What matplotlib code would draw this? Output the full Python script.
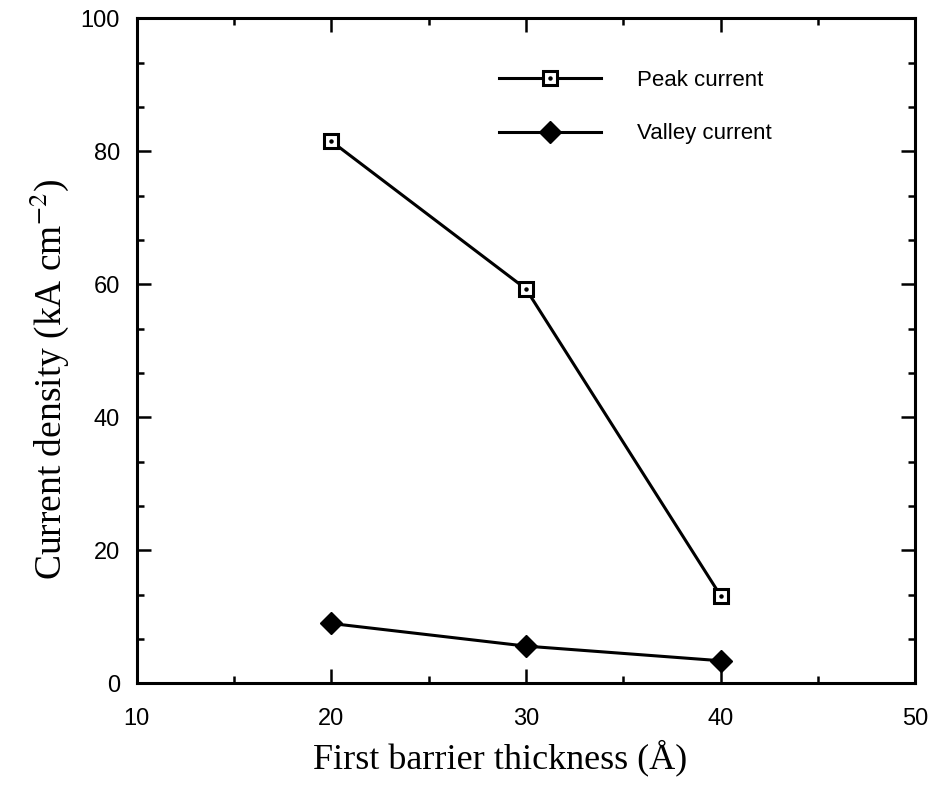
import matplotlib
matplotlib.use("Agg")
import matplotlib.pyplot as plt
from matplotlib.ticker import AutoMinorLocator
from matplotlib.legend_handler import HandlerTuple

# first barrier thickness (angstrom) and current densities (kA cm^-2)
thickness = [20, 30, 40]
peak_current = [81.5, 59.3, 13.2]
valley_current = [9.0, 5.6, 3.4]

xticks = [10, 20, 30, 40, 50]
yticks = [0, 20, 40, 60, 80, 100]

plt.rcParams["mathtext.fontset"] = "stix"

fig = plt.figure(figsize=(9.3, 7.9), dpi=100)
ax = fig.add_axes([0.147, 0.135, 0.837, 0.842])

sans = "Liberation Sans"
serif = "Liberation Serif"

pk, = ax.plot(thickness, peak_current, color="black", lw=2.2, marker="s",
              ms=10, mfc="white", mec="black", mew=2.2, zorder=3)
pk_dot, = ax.plot(thickness, peak_current, ls="none", marker="o", ms=2.2,
                  color="black", zorder=4)
vl, = ax.plot(thickness, valley_current, color="black", lw=2.2, marker="D",
              ms=11, mfc="black", mec="black", zorder=3)

ax.set_xlim(10, 50)
ax.set_ylim(0, 100)
ax.xaxis.set_minor_locator(AutoMinorLocator(2))
ax.yaxis.set_minor_locator(AutoMinorLocator(3))
ax.set_xticks(xticks)
ax.set_yticks(yticks)

for sp in ax.spines.values():
    sp.set_linewidth(2.2)

ax.tick_params(which="both", direction="in", top=True, right=True,
               width=1.8, color="black")
ax.tick_params(which="major", length=10)
ax.tick_params(which="minor", length=5)
ax.tick_params(axis="x", which="major", pad=18, labelsize=17)
ax.tick_params(axis="y", which="major", pad=12, labelsize=17)
for lab in ax.get_xticklabels() + ax.get_yticklabels():
    lab.set_fontfamily(sans)

ax.set_xlabel("First barrier thickness (Å)", fontsize=26, family=serif)
ax.xaxis.set_label_coords(0.467, -0.085)
ax.set_ylabel("Current density (kA cm$^{-2}$)", fontsize=27, family=serif)
ax.yaxis.set_label_coords(-0.084, 0.457)

leg = ax.legend([(pk, pk_dot), vl], ["Peak current", "Valley current"],
                handler_map={tuple: HandlerTuple(ndivide=1, pad=0)},
                loc="upper left", bbox_to_anchor=(0.44, 0.952),
                frameon=False, handlelength=4.6, handletextpad=1.6,
                labelspacing=1.45, prop={"family": sans, "size": 16})

fig.savefig("out.png", dpi=100)
